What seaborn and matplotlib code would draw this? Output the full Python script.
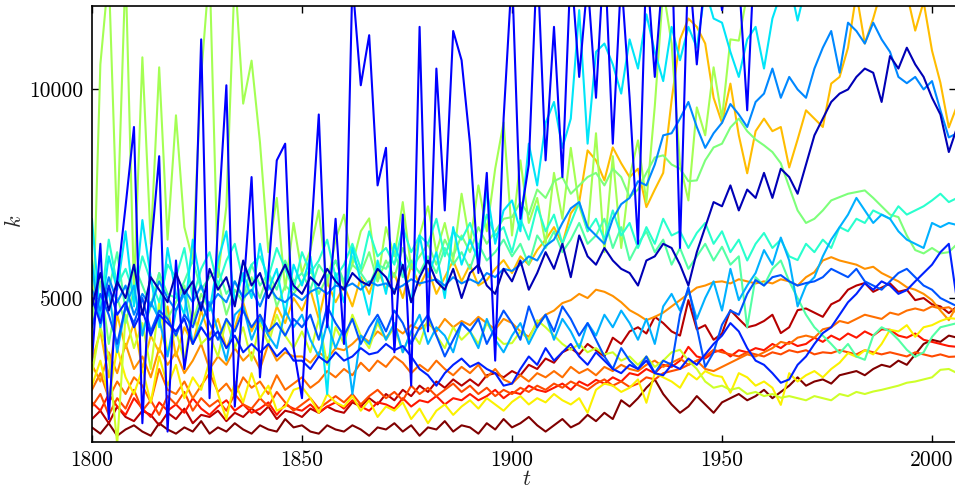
import matplotlib
matplotlib.use("Agg")
import matplotlib.pyplot as plt
import pandas as pd
import seaborn as sns

# yearly samples every second year
years = list(range(1800, 2007, 2))

k_maroon = [1900, 1750, 2000, 1700, 1850,
            1950, 1800, 1700, 2000, 1850,
            1750, 1900, 1800, 2050, 1750,
            1900, 1800, 2000, 1850, 1750,
            1950, 1850, 1800, 2100, 1900,
            1950, 1800, 1750, 1950, 1850,
            1800, 1950, 1850, 1700, 1900,
            1850, 2000, 1800, 1950, 1700,
            1900, 1850, 2050, 1800, 1950,
            1900, 1750, 2000, 1850, 2100,
            1900, 2000, 2150, 1950, 1800,
            1950, 2100, 1900, 2000, 2200,
            2050, 2250, 2100, 2550, 2400,
            2600, 2850, 3050, 2700, 2450,
            2250, 2400, 2650, 2450, 2250,
            2500, 2600, 2700, 2550, 2650,
            2800, 2600, 2750, 2900, 3100,
            2900, 3000, 3050, 2950, 3150,
            3200, 3250, 3150, 3300, 3400,
            3350, 3500, 3400, 3650, 3900,
            4000, 3950, 4100, 4050]

k_darkred = [2100, 2300, 2000, 2400, 2150,
             2050, 2300, 2200, 1950, 2250,
             2100, 2350, 2000, 2200, 2150,
             2300, 2050, 2250, 2150, 2350,
             2200, 2400, 2100, 2300, 2250,
             2150, 2350, 2250, 2400, 2300,
             2250, 2500, 2400, 2600, 2450,
             2700, 2550, 2800, 2650, 2900,
             2750, 3000, 2850, 3050, 2900,
             3050, 2900, 3150, 3200, 3100,
             3250, 3150, 3400, 3300, 3550,
             3450, 3700, 3800, 3650, 3900,
             3750, 3600, 4050, 3900, 4200,
             4300, 4150, 4550, 4400, 4200,
             4100, 4950, 4250, 4350, 4000,
             4150, 4710, 4500, 4300, 4350,
             4450, 4600, 4160, 4300, 4710,
             4750, 4650, 4550, 4850, 4950,
             5200, 5300, 5360, 5150, 5250,
             5350, 5150, 5200, 4950, 5000,
             4850, 4800, 4640, 4800]

k_red = [2500, 2300, 2700, 2400, 2200,
         2600, 2350, 2150, 2500, 2300,
         2450, 2250, 2600, 2350, 2200,
         2400, 2550, 2300, 2450, 2250,
         2350, 2500, 2200, 2450, 2350,
         2300, 2450, 2250, 2400, 2500,
         2350, 2550, 2400, 2300, 2500,
         2450, 2350, 2600, 2400, 2550,
         2500, 2650, 2450, 2600, 2550,
         2700, 2550, 2650, 2800, 2600,
         2750, 2700, 2900, 2800, 2750,
         2850, 2950, 2800, 3000, 2900,
         3040, 2950, 3100, 3000, 3200,
         3150, 3300, 3200, 3400, 3350,
         3500, 3830, 3600, 3550, 3700,
         3760, 3600, 3750, 3700, 3800,
         3750, 3900, 3800, 3950, 3850,
         3900, 4050, 3950, 4100, 4000,
         4150, 4050, 4200, 4100, 4250,
         4240, 4100, 4050, 4150, 4000,
         3950, 3900, 3850, 3830]

k_orangered = [2400, 2700, 2200, 2600, 2350,
               2800, 2300, 2550, 2200, 2650,
               2450, 2750, 2300, 2600, 2400,
               2550, 2300, 2700, 2450, 2350,
               2600, 2400, 2750, 2500, 2300,
               2450, 2600, 2350, 2500, 2650,
               2500, 2700, 2450, 2650, 2800,
               2600, 2750, 2550, 2900, 2700,
               2850, 2650, 2800, 2950, 2750,
               2900, 2700, 2850, 2650, 2800,
               2700, 2850, 2750, 2900, 2800,
               2950, 2850, 3000, 2900, 2800,
               2950, 3050, 2900, 3000, 2870,
               2950, 3100, 3050, 3200, 3250,
               3300, 3400, 3500, 3600, 3760,
               3700, 3650, 3600, 3700, 3650,
               3600, 3700, 3650, 3750, 3700,
               3750, 3650, 3700, 3680, 3750,
               3700, 3650, 3750, 3700, 3650,
               3700, 3650, 3600, 3700, 3650,
               3600, 3650, 3590, 3600]

k_orange2 = [2800, 3200, 2600, 3000, 2700,
             3100, 2900, 2500, 3300, 2800,
             2700, 3000, 2600, 2900, 3200,
             2750, 2950, 2650, 3100, 2850,
             3000, 2700, 3150, 2800, 2950,
             3100, 2850, 3000, 3250, 3100,
             3300, 3150, 3450, 3250, 3500,
             3350, 3600, 3450, 3200, 3400,
             3250, 3500, 3300, 3150, 3350,
             3200, 3400, 3100, 3300, 3050,
             2950, 3150, 3000, 3200, 3100,
             3250, 3100, 3350, 3200, 3300,
             3150, 3350, 3250, 3400, 3300,
             3250, 3400, 3500, 3350, 3450,
             3550, 3400, 3500, 3300, 3250,
             3350, 3450, 3550, 3650, 3600,
             3700, 3800, 3950, 3900, 4050,
             4100, 4050, 4250, 4300, 4450,
             4400, 4500, 4600, 4550, 4500,
             4650, 4600, 4700, 4750, 4700,
             4800, 4750, 4780, 4640]

k_orange = [3400, 3000, 3700, 3200, 3900,
            3300, 3600, 3100, 3800, 3400,
            3700, 3200, 3500, 3900, 3300,
            3600, 3400, 3800, 3500, 3700,
            3300, 3900, 3500, 3700, 3600,
            3600, 3450, 3700, 3550, 3800,
            3750, 3900, 4100, 3950, 4200,
            4050, 4300, 4150, 4350, 4250,
            4400, 4200, 4500, 4300, 4450,
            4350, 4550, 4400, 4250, 4500,
            4400, 4200, 4070, 4400, 4600,
            4700, 4880, 4950, 5100, 5000,
            5200, 5150, 5050, 4900, 4710,
            4600, 4470, 4550, 4650, 4800,
            4950, 5100, 5250, 5300, 5380,
            5400, 5350, 5450, 5400, 5350,
            5400, 5350, 5450, 5400, 5300,
            5500, 5620, 5900, 5980, 5900,
            5850, 5800, 5700, 5750, 5600,
            5500, 5400, 5260, 5200, 5100,
            4950, 4700, 4470, 4830]

k_amber = [3500, 4200, 3100, 4600, 3800,
           4400, 3300, 4100, 3700, 4800,
           3600, 4300, 3900, 4700, 4100,
           4500, 3800, 4300, 4900, 4200,
           4600, 4100, 4800, 4400, 5000,
           4700, 5200, 4500, 5400, 4900,
           5300, 4800, 5500, 5100, 5700,
           5200, 5600, 5000, 5800, 5300,
           5700, 5100, 5500, 5900, 5400,
           5800, 5300, 5430, 5700, 5910,
           5600, 6000, 5800, 6150, 6400,
           6700, 6300, 7030, 7300, 8540,
           8300, 7820, 8610, 8230, 7900,
           8100, 7180, 7600, 8000, 9740,
           11200, 11700, 11500, 11100, 9800,
           9200, 10140, 8900, 7990, 9000,
           9300, 9000, 9100, 8130, 8800,
           9500, 9300, 9100, 10140, 10300,
           11000, 12300, 11100, 11700, 12400,
           12600, 12800, 12300, 11410, 12100,
           10930, 10160, 9090, 9620]

k_yellow = [2900, 3500, 2600, 3800, 3100,
            2700, 3300, 2500, 3600, 2900,
            3400, 2600, 3100, 2800, 3500,
            2700, 2100, 3000, 2500, 3200,
            2600, 2900, 2300, 2400, 2800,
            2870, 2600, 2250, 2700, 2500,
            2400, 2650, 2300, 2550, 2150,
            2400, 2300, 2500, 2100, 2350,
            2000, 2300, 2450, 2200, 2400,
            2550, 2350, 2600, 2450, 2300,
            2510, 2650, 2450, 2600, 2500,
            2700, 2550, 2450, 2600, 2250,
            2800, 2950, 2900, 2750, 2850,
            3050, 2490, 3200, 3100, 3000,
            2850, 3200, 3050, 3250, 3150,
            3110, 2730, 3200, 3100, 2900,
            3000, 2850, 2440, 3200, 3000,
            3150, 3250, 3100, 3300, 3450,
            3680, 3590, 3750, 3650, 3900,
            4240, 4200, 4350, 4070, 4300,
            4350, 4450, 4520, 4500]

k_yellowgreen = [3200, 4300, 3600, 1500, 4600,
                 3800, 4400, 3300, 4900, 3700,
                 4200, 3500, 4700, 3900, 4100,
                 3600, 4500, 3800, 4300, 3500,
                 4400, 3900, 4600, 4100, 3800,
                 4200, 3700, 4500, 3400, 4300,
                 3900, 4600, 4100, 3800, 4400,
                 4000, 4300, 3700, 4200, 3900,
                 4500, 4100, 3800, 4300, 4000,
                 4200, 3900, 4400, 4100, 3900,
                 3920, 4200, 4000, 4470, 4300,
                 4100, 3900, 3760, 3900, 3700,
                 3800, 3650, 3700, 3500, 3600,
                 3400, 3600, 3350, 3500, 3700,
                 3760, 3500, 3300, 3000, 2850,
                 2900, 2800, 2850, 2700, 2750,
                 2650, 2700, 2610, 2650, 2600,
                 2550, 2650, 2600, 2550, 2700,
                 2650, 2750, 2700, 2760, 2800,
                 2850, 2900, 2970, 3000, 3050,
                 3100, 3280, 3300, 3200]

k_greenyellow = [3700, 10600, 12800, 6600, 12900,
                 5200, 10770, 6300, 10530, 6400,
                 9380, 6700, 5900, 10330, 12900,
                 5500, 7200, 12800, 9660, 10690,
                 8730, 6100, 7400, 5200, 6800,
                 5600, 6150, 7100, 5300, 6400,
                 7000, 5800, 6600, 6910, 5400,
                 6700, 6000, 7300, 5700, 6500,
                 7200, 6100, 6800, 5900, 7500,
                 6300, 7700, 6600, 8100, 9210,
                 6500, 8300, 6800, 7400, 6300,
                 8000, 6900, 8600, 7200, 6600,
                 8950, 6100, 8400, 6200, 7900,
                 8780, 7300, 9600, 12400, 11100,
                 8200, 7340, 9570, 8900, 10530,
                 9300, 11200, 11170, 12300, 12800,
                 13200, 12900, 13500, 13100, 13700,
                 13400, 13900, 13600, 14100, 13800,
                 14200, 14000, 14500, 14300, 14700,
                 14400, 14900, 14600, 15000, 14800,
                 15100, 14900, 15300, 15200]

k_lightgreen = [4600, 5400, 3900, 5000, 4400,
                5200, 4200, 4800, 5600, 4500,
                4900, 5300, 4400, 5100, 4700,
                5400, 4600, 5200, 4900, 5500,
                5000, 5600, 4800, 5300, 5100,
                5400, 5700, 5100, 5500, 5900,
                5300, 5800, 5600, 6100, 5400,
                5900, 5500, 6200, 5700, 6000,
                6300, 5800, 6400, 6000, 6500,
                6100, 6700, 6300, 6600, 6900,
                6940, 7300, 7000, 7600, 7400,
                7800, 7900, 7500, 7700, 7900,
                8000, 7700, 8100, 7900, 7420,
                7600, 8000, 8370, 8420, 8200,
                8100, 7800, 7820, 8300, 8610,
                8700, 9090, 9300, 9000, 8800,
                8660, 8500, 8230, 7660, 7100,
                6800, 6900, 7100, 7340, 7420,
                7500, 7540, 7580, 7400, 7200,
                7000, 6940, 6500, 6150, 6070,
                6200, 6070, 6100, 6300]

k_mint = [5500, 4900, 5200, 6100, 4700,
          5800, 5300, 4800, 5600, 5100,
          5000, 5400, 5900, 5200, 5500,
          5700, 5100, 5400, 5000, 5800,
          5300, 5600, 5200, 5900, 5400,
          5600, 5200, 5800, 5500, 5900,
          5400, 6000, 5600, 5300, 5800,
          5700, 6100, 5500, 5900, 5600,
          6000, 5600, 6200, 5800, 6100,
          5700, 6300, 5900, 6100, 6400,
          6000, 6300, 5800, 6500, 6200,
          6600, 6100, 6400, 6800, 6300,
          6500, 6900, 6200, 6700, 5910,
          6300, 6600, 6100, 6400, 5800,
          6200, 5700, 6000, 6300, 5900,
          6230, 5800, 6000, 4300, 5500,
          5300, 5700, 5900, 5400, 5000,
          4600, 4300, 4100, 3900, 3680,
          3900, 3600, 3520, 4100, 4300,
          4200, 4000, 3760, 3590, 3700,
          4070, 4300, 4350, 4400]

k_aquamarine = [5900, 4800, 6400, 5300, 5700,
                5100, 6000, 5400, 4900, 5800,
                5500, 6200, 5000, 5700, 6100,
                5300, 5900, 6300, 5400, 5800,
                6000, 5500, 6200, 5700, 5200,
                6100, 5600, 5900, 6400, 5500,
                5800, 6300, 5700, 6600, 6000,
                6200, 5800, 6700, 6100, 6500,
                6300, 6900, 6000, 6600, 6400,
                6800, 6200, 7000, 6500, 6700,
                6100, 6900, 6400, 7200, 6600,
                7000, 6300, 6800, 7300, 6600,
                6900, 6400, 7100, 6500, 6800,
                6200, 6700, 6300, 6900, 6500,
                6600, 6200, 6560, 6800, 6300,
                6600, 6100, 6400, 5900, 6300,
                6560, 6200, 6400, 6000, 5910,
                6300, 6100, 6400, 6200, 6700,
                6600, 6900, 6800, 7100, 7000,
                6900, 7200, 7000, 7100, 7200,
                7340, 7500, 7300, 7400]

k_cyan = [6900, 4500, 6000, 5200, 6600,
          4800, 6870, 5500, 4300, 6200,
          5100, 4600, 6400, 5300, 4700,
          5900, 6600, 4900, 5600, 5000,
          6300, 5200, 5700, 4600, 5800,
          5300, 6000, 4800, 2700, 5600,
          4900, 6200, 5400, 4600, 5900,
          5100, 6300, 5700, 4900, 6500,
          5500, 6100, 5000, 6700, 5800,
          6400, 5900, 7600, 6300, 7100,
          7340, 6600, 8700, 7700, 9200,
          9700, 8600, 9300, 11900, 8700,
          10900, 11100, 10600, 9900, 11200,
          10500, 11800, 10900, 10200, 11500,
          10700, 11500, 11000, 12400, 11700,
          11600, 10900, 10300, 11200, 11500,
          10500, 11700, 12300, 12600, 11650,
          12500, 13000, 13400, 13100, 13600,
          13800, 13500, 14000, 13700, 14100,
          14300, 14000, 14500, 14200, 14600,
          14400, 14700, 14500, 14800]

k_lightblue = [5800, 4300, 5200, 3700, 4800,
               5300, 4100, 4900, 4500, 3600,
               4700, 5100, 3900, 4400, 4900,
               4200, 3500, 4600, 4800, 4000,
               4500, 4100, 3800, 4700, 4300,
               4600, 4000, 3600, 4400, 3800,
               4300, 2700, 4100, 3900, 4500,
               4000, 4400, 3700, 4200, 4600,
               3900, 4300, 4100, 3700, 4400,
               4200, 3800, 4500, 4000, 3700,
               4100, 4400, 3900, 4300, 4600,
               4000, 4500, 4200, 3800, 4400,
               4100, 4600, 4300, 4700, 4400,
               4000, 4500, 3900, 4800, 5100,
               4700, 5200, 4500, 5000, 5400,
               4700, 5700, 4950, 5300, 5600,
               6150, 5800, 6450, 5900, 4800,
               5300, 5500, 6000, 6400, 6700,
               7000, 7400, 7100, 6800, 7000,
               6900, 6600, 6400, 6300, 6200,
               6800, 6700, 6800, 6750]

k_azure = [5200, 4700, 5500, 4900, 5300,
           4600, 5100, 4800, 5400, 5000,
           4700, 5200, 4900, 5300, 4800,
           5100, 4900, 5400, 5000, 5200,
           4800, 5300, 5000, 4900, 5100,
           4950, 5150, 5250, 5100, 5300,
           5250, 5350, 5200, 5400, 5300,
           5350, 5200, 5300, 5450, 5350,
           5400, 5450, 5300, 5500, 5350,
           5450, 5350, 5600, 5500, 5700,
           5650, 5800, 6000, 5900, 6250,
           6400, 6800, 7150, 7300, 6700,
           6500, 6300, 6900, 7250, 7400,
           7800, 7700, 8200, 8900, 8950,
           9300, 9700, 9100, 8600, 8950,
           9200, 9650, 9400, 9100, 9700,
           9900, 10500, 9800, 10300, 10000,
           9800, 10500, 11000, 11400, 10400,
           11600, 11400, 11100, 11600, 11200,
           10900, 10300, 10150, 10300, 10000,
           10200, 9500, 8850, 8950]

k_blue2 = [4300, 5100, 4600, 3900, 4800,
           4400, 5000, 4200, 4700, 4500,
           4100, 4600, 4300, 4900, 4400,
           4000, 4500, 4200, 4700, 4300,
           4600, 4200, 4400, 4100, 4500,
           4300, 4600, 4000, 4800, 4400,
           4100, 4500, 3900, 4300, 4600,
           4200, 4700, 4400, 3900, 4300,
           4600, 4100, 3600, 4000, 4400,
           4200, 4500, 3900, 4300, 4700,
           4400, 4000, 4800, 4300, 4600,
           4200, 4800, 4500, 4100, 4400,
           4000, 3600, 3300, 3800, 3500,
           3300, 3600, 3200, 3500, 3400,
           4600, 5260, 4300, 3350, 3700,
           4360, 4700, 4600, 5100, 5430,
           5300, 5500, 5550, 5400, 5300,
           5360, 5400, 5500, 5700, 5600,
           5500, 5700, 5400, 5300, 5200,
           5400, 5600, 5700, 5500, 5300,
           5200, 5000, 4900, 4800]

k_blue1 = [5000, 4400, 5300, 4600, 4900,
           4300, 4700, 4100, 4600, 4400,
           4200, 4500, 3900, 4300, 4000,
           4200, 3800, 4100, 3700, 3900,
           3700, 3900, 3600, 3800, 3500,
           3500, 3300, 3600, 3450, 3700,
           3500, 3600, 3800, 3650, 3700,
           3900, 3750, 3850, 3600, 3300,
           3150, 2900, 3200, 3400, 3550,
           3350, 3450, 3300, 3200, 2900,
           2950, 3300, 3600, 3400, 3800,
           3500, 3700, 3900, 3600, 3400,
           3700, 3500, 3300, 3200, 3400,
           3300, 3500, 3200, 3150, 3400,
           3300, 3550, 3400, 3650, 3900,
           4100, 4400, 4200, 3800, 3500,
           3400, 3200, 2970, 3050, 3400,
           3600, 3900, 4160, 4300, 4600,
           4900, 5100, 5360, 5200, 5400,
           5300, 5100, 5190, 5400, 5600,
           5800, 6100, 6300, 4900]

k_blue = [3500, 6300, 2100, 5400, 7200,
          9100, 2000, 6100, 8400, 1800,
          5900, 3300, 4700, 11200, 2600,
          6800, 10100, 2400, 5100, 7900,
          3100, 5600, 8300, 8700, 3800,
          2600, 6200, 9400, 4300, 6900,
          3900, 12600, 10100, 11300, 7700,
          8600, 3700, 7000, 2900, 11500,
          4200, 10500, 7100, 11400, 10700,
          8700, 5600, 8000, 3500, 9300,
          12800, 6900, 8200, 13200, 8300,
          11500, 7900, 13000, 10300, 12600,
          9800, 13400, 8700, 12700, 9800,
          6300, 13100, 10300, 12900, 13600,
          6200, 13200, 10600, 12800, 13500,
          11900, 13400, 12700, 9500, 13900,
          14200, 13800, 14600, 14000, 14800,
          14500, 15000, 14700, 15200, 14900,
          15300, 15100, 15600, 15400, 15800,
          15500, 16000, 15700, 16200, 15900,
          16100, 16400, 16000, 16300]

k_navy = [4800, 5600, 4700, 5400, 5000,
          5800, 4600, 5500, 5200, 4900,
          5600, 5100, 5400, 4700, 5700,
          5200, 5500, 4800, 5900, 5300,
          5600, 5000, 5400, 5800, 5300,
          5100, 5500, 5300, 5700, 5400,
          5200, 5600, 5400, 5300, 5700,
          5500, 5100, 5800, 4900, 5500,
          5900, 5400, 5200, 5700, 5000,
          5600, 5800, 5300, 5100, 5700,
          5400, 5900, 5200, 5600, 6100,
          5700, 6300, 5500, 6500, 6000,
          5800, 6200, 5900, 5700, 5600,
          5300, 5900, 6000, 6300, 6200,
          5800, 5300, 6100, 6700, 7300,
          7200, 7700, 7100, 7600, 7400,
          8000, 7400, 8100, 7900, 7500,
          8200, 8900, 9300, 9700, 9900,
          10000, 10300, 10500, 10400, 9700,
          10800, 10500, 11000, 10600, 10300,
          9800, 9400, 8500, 9100]

# drawing order (first = bottom) and position of each curve on the jet scale
curves = [
    ("maroon", 1.00, k_maroon),
    ("darkred", 0.95, k_darkred),
    ("red", 0.885, k_red),
    ("orangered", 0.83, k_orangered),
    ("orange2", 0.79, k_orange2),
    ("orange", 0.755, k_orange),
    ("amber", 0.71, k_amber),
    ("yellow", 0.655, k_yellow),
    ("yellowgreen", 0.60, k_yellowgreen),
    ("greenyellow", 0.55, k_greenyellow),
    ("lightgreen", 0.50, k_lightgreen),
    ("mint", 0.45, k_mint),
    ("aquamarine", 0.40, k_aquamarine),
    ("cyan", 0.35, k_cyan),
    ("lightblue", 0.30, k_lightblue),
    ("azure", 0.26, k_azure),
    ("blue2", 0.21, k_blue2),
    ("blue1", 0.16, k_blue1),
    ("blue", 0.11, k_blue),
    ("navy", 0.05, k_navy),
]

frames = []
for name, _, vals in curves:
    frames.append(pd.DataFrame({"t": years, "k": vals, "word": name}))
df = pd.concat(frames, ignore_index=True)

jet = plt.get_cmap("jet")
palette = {name: jet(pos) for name, pos, _ in curves}
order = [name for name, _, _ in curves]

sns.set_style("ticks")
plt.rcParams["font.family"] = ["cmr10", "DejaVu Serif"]
plt.rcParams["mathtext.fontset"] = "cm"
plt.rcParams["axes.formatter.use_mathtext"] = True

fig = plt.figure(figsize=(9.55, 4.87), dpi=100)
ax = fig.add_axes([0.0963, 0.0924, 0.9047, 0.8953])

sns.lineplot(data=df, x="t", y="k", hue="word", hue_order=order,
             palette=palette, estimator=None, sort=False,
             linewidth=1.5, legend=False, ax=ax)

ax.set_xlim(1800, 2005.7)
ax.set_ylim(1550, 12000)
ax.set_xticks([1800, 1850, 1900, 1950, 2000])
ax.set_yticks([5000, 10000])
ax.set_xticklabels(["1800", "1850", "1900", "1950", "2000"])
ax.set_yticklabels(["5000", "10000"])
ax.tick_params(direction="in", length=5, width=1, top=True, right=True,
               labelsize=15.5, pad=6, colors="black")
for side in ["left", "bottom", "top"]:
    ax.spines[side].set_linewidth(1.2)
    ax.spines[side].set_color("black")
ax.spines["right"].set_visible(False)

ax.set_xlabel("$t$", fontsize=16)
ax.set_ylabel("$k$", fontsize=16)
ax.xaxis.set_label_coords(0.503, -0.062)
ax.yaxis.set_label_coords(-0.078, 0.505)

fig.savefig("out.png", dpi=100, facecolor="white")
